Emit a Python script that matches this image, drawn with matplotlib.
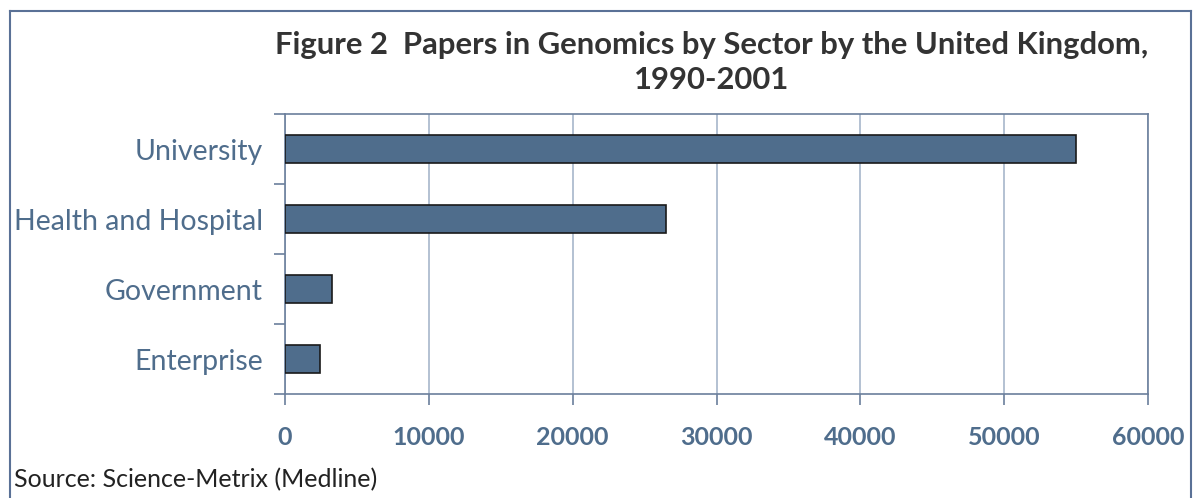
import matplotlib
matplotlib.use("Agg")
import matplotlib.pyplot as plt

categories = ["University", "Health and Hospital", "Government", "Enterprise"]
papers = [55000, 26500, 3250, 2450]
xticks = [0, 10000, 20000, 30000, 40000, 50000, 60000]

bar_color = "#4F6D8C"
axis_color = "#6B7F9C"
grid_color = "#A7B6CB"
label_color = "#4F6D8C"

plt.rcParams['font.family'] = ['Lato', 'DejaVu Sans']

fig = plt.figure(figsize=(11.95, 4.98), dpi=100)
W, H = 1195, 498
ax = fig.add_axes([285 / W, 1 - 394 / H, (1148 - 285) / W, (394 - 114) / H])

ypos = list(range(len(categories)))
ax.barh(ypos, papers, height=0.4, color=bar_color, edgecolor="#1a1a1a", linewidth=1.2, zorder=3)
ax.set_ylim(len(categories) - 0.5, -0.5)
ax.set_xlim(0, 60000)

ax.set_xticks(xticks)
ax.set_xticklabels([str(v) for v in xticks], fontsize=18, fontweight="bold", color=label_color)
ax.set_yticks(ypos)
ax.set_yticklabels(categories, fontsize=20.5, color=label_color)
ax.tick_params(axis="y", length=0, pad=16)
ax.set_yticks([i + 0.5 for i in range(-1, len(categories))], minor=True)
ax.tick_params(axis="y", which="minor", length=8, color=axis_color, width=1.2)
ax.tick_params(axis="x", length=8, color=axis_color, width=1.2, pad=15)

ax.grid(axis="x", color=grid_color, linewidth=1.2, zorder=0)
for s in ["left", "bottom", "top", "right"]:
    ax.spines[s].set_color(axis_color)
    ax.spines[s].set_linewidth(1.2)

fig.text(712 / W, 1 - 45 / H, "Figure 2  Papers in Genomics by Sector by the United Kingdom,",
         ha="center", va="center", fontsize=22.3, fontweight="bold", color="#333333")
fig.text(712 / W, 1 - 80 / H, "1990-2001",
         ha="center", va="center", fontsize=22.3, fontweight="bold", color="#333333")
fig.text(14 / W, 1 - 480 / H, "Source: Science-Metrix (Medline)",
         ha="left", va="center", fontsize=18, color="#222222")

# outer frame (left, top, right)
frame_kw = dict(transform=fig.transFigure, color="#5A7196", linewidth=1.5)
fig.add_artist(plt.Line2D([9.5 / W, 9.5 / W], [0, 1 - 11.5 / H], **frame_kw))
fig.add_artist(plt.Line2D([9.5 / W, 1190.5 / W], [1 - 11.5 / H, 1 - 11.5 / H], **frame_kw))
fig.add_artist(plt.Line2D([1190.5 / W, 1190.5 / W], [0, 1 - 11.5 / H], **frame_kw))

fig.savefig("out.png", dpi=100)
